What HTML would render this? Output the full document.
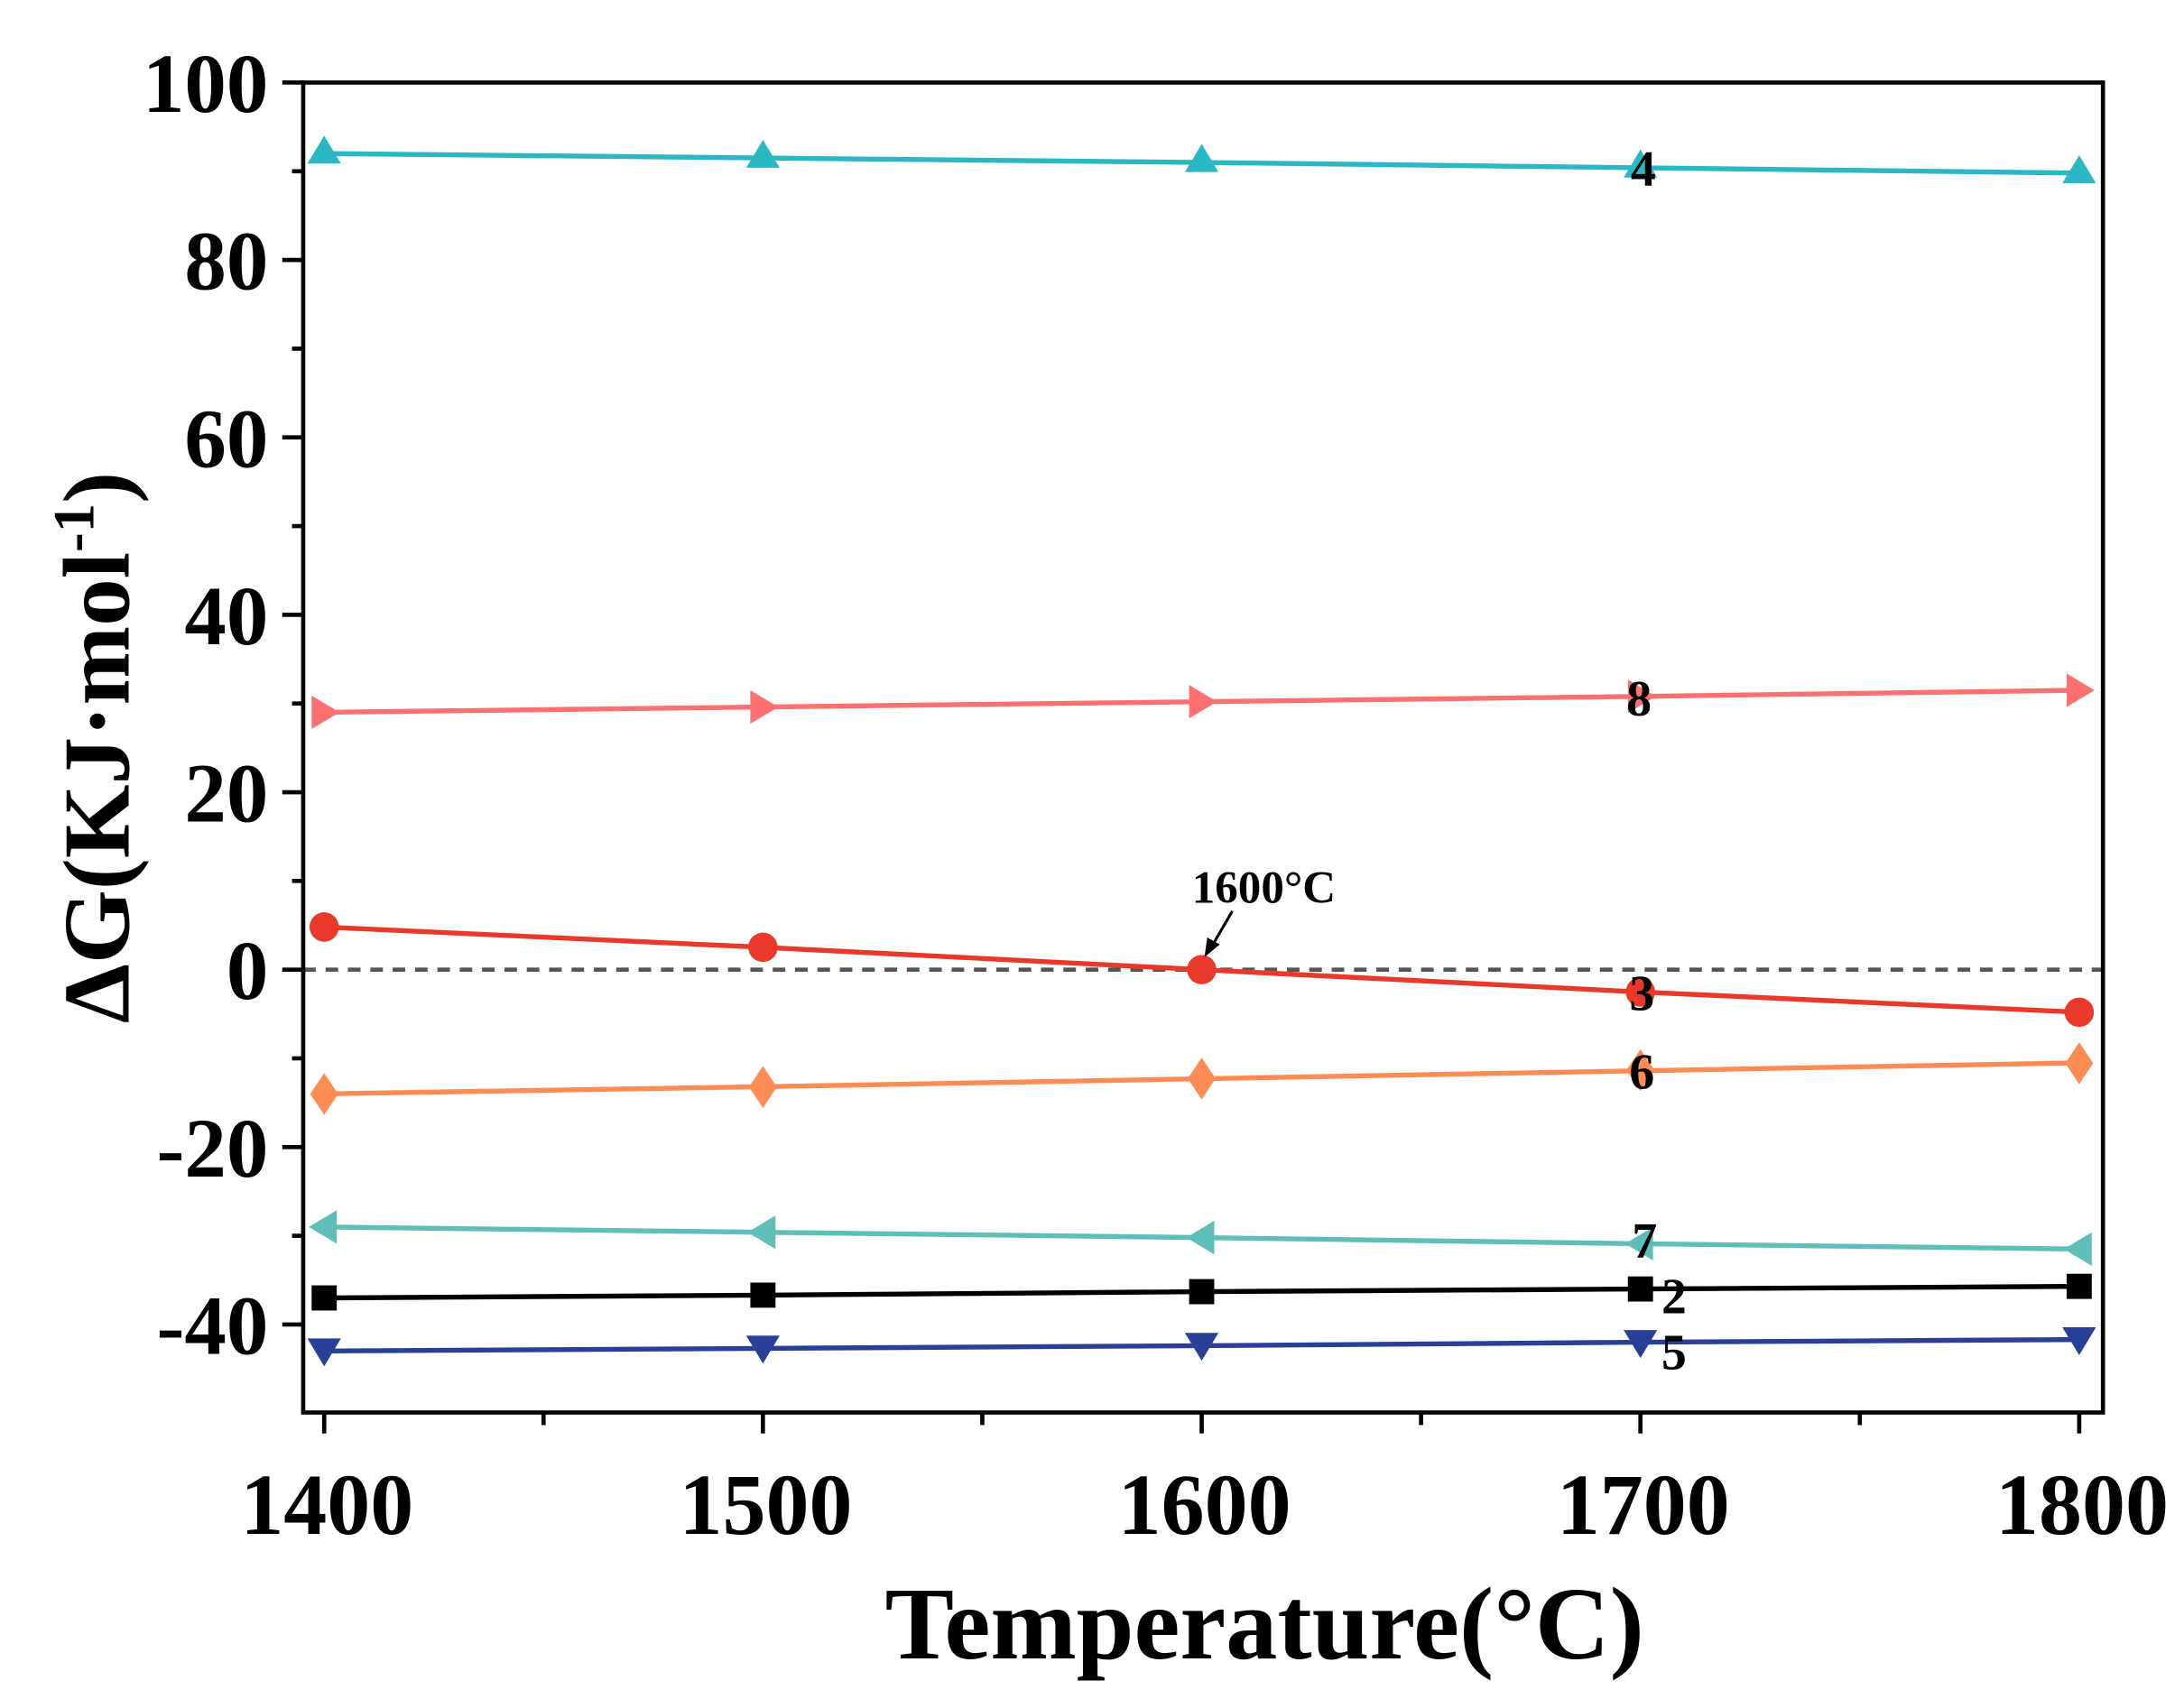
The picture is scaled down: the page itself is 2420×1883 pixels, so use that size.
<!DOCTYPE html>
<html><head><meta charset="utf-8"><style>
html,body{margin:0;padding:0;background:#fff;width:2420px;height:1883px;overflow:hidden}
svg{display:block}
text{font-family:"Liberation Serif",serif;font-weight:bold;fill:#000}
</style></head><body>
<svg width="2420" height="1883" viewBox="0 0 1563 1216" xmlns="http://www.w3.org/2000/svg">
<rect width="1563" height="1216" fill="#fff"/>
<line x1="217" y1="694" x2="1505" y2="694" stroke="#555" stroke-width="3" stroke-dasharray="9,7"/>
<g fill="none" stroke-width="3.5">
<polyline stroke="#2bb8c4" points="232,109.8 546,113 860,116.2 1174,120 1488,123.8"/>
<polyline stroke="#ff7070" points="232,509.8 546,506 860,502.2 1174,498.4 1488,494"/>
<polyline stroke="#e8392a" points="232,663.5 546,678 860,694 1174,710 1488,724.5"/>
<polyline stroke="#ff8c55" points="232,782.9 546,777.8 860,772.1 1174,766.4 1488,760.7"/>
<polyline stroke="#5fbfb8" points="232,878.2 546,882 860,885.8 1174,890.2 1488,894"/>
<polyline stroke="#000" points="232,929 546,927 860,924.5 1174,922.6 1488,920.7"/>
<polyline stroke="#2a3f98" points="232,967 546,965.1 860,963.2 1174,960.7 1488,958.8"/>
</g>
<g fill="#2bb8c4">
<path d="M232,97 l12,20 h-24z"/><path d="M546,100 l12,20 h-24z"/><path d="M860,103 l12,20 h-24z"/><path d="M1174,107 l12,20 h-24z"/><path d="M1488,111 l12,20 h-24z"/>
</g>
<g fill="#ff7070">
<path d="M243,509.8 l-20,-12 v24z"/><path d="M557,506 l-20,-12 v24z"/><path d="M871,502.2 l-20,-12 v24z"/><path d="M1185,498.4 l-20,-12 v24z"/><path d="M1499,494 l-20,-12 v24z"/>
</g>
<g fill="#e8392a">
<circle cx="232" cy="663.5" r="10.5"/><circle cx="546" cy="678" r="10.5"/><circle cx="860" cy="694" r="10.5"/><circle cx="1174" cy="710" r="10.5"/><circle cx="1488" cy="724.5" r="10.5"/>
</g>
<g fill="#ff8c55">
<path d="M232,768 l10,15 l-10,15 l-10,-15z"/><path d="M546,763 l10,15 l-10,15 l-10,-15z"/><path d="M860,757 l10,15 l-10,15 l-10,-15z"/><path d="M1174,751 l10,15 l-10,15 l-10,-15z"/><path d="M1488,746 l10,15 l-10,15 l-10,-15z"/>
</g>
<g fill="#5fbfb8">
<path d="M221,878.2 l20,-12 v24z"/><path d="M535,882 l20,-12 v24z"/><path d="M849,885.8 l20,-12 v24z"/><path d="M1163,890.2 l20,-12 v24z"/><path d="M1477,894 l20,-12 v24z"/>
</g>
<g fill="#000">
<rect x="223" y="920" width="18" height="18"/><rect x="537" y="918" width="18" height="18"/><rect x="851" y="915.5" width="18" height="18"/><rect x="1165" y="913.6" width="18" height="18"/><rect x="1479" y="911.7" width="18" height="18"/>
</g>
<g fill="#2a3f98">
<path d="M232,978 l12,-20 h-24z"/><path d="M546,976 l12,-20 h-24z"/><path d="M860,974 l12,-20 h-24z"/><path d="M1174,972 l12,-20 h-24z"/><path d="M1488,970 l12,-20 h-24z"/>
</g>
<g font-size="36" text-anchor="middle">
<text x="1176" y="133">4</text>
<text x="1173" y="512">8</text>
<text x="1175" y="723">3</text>
<text x="1175" y="779">6</text>
<text x="1177" y="900">7</text>
<text x="1198" y="940">2</text>
<text x="1198" y="980">5</text>
</g>
<text x="853" y="646" font-size="33">1600°C</text>
<line x1="882" y1="652" x2="868" y2="676" stroke="#000" stroke-width="2"/>
<path d="M862,685 l2,-14 l9,5z" fill="#000"/>
<rect x="217" y="59" width="1288" height="952" fill="none" stroke="#000" stroke-width="3"/>
<g stroke="#000" stroke-width="3">
<line x1="202" y1="59" x2="217" y2="59"/><line x1="202" y1="186" x2="217" y2="186"/><line x1="202" y1="313" x2="217" y2="313"/><line x1="202" y1="440" x2="217" y2="440"/><line x1="202" y1="567" x2="217" y2="567"/><line x1="202" y1="694" x2="217" y2="694"/><line x1="202" y1="821" x2="217" y2="821"/><line x1="202" y1="948" x2="217" y2="948"/>
<line x1="209" y1="122.5" x2="217" y2="122.5"/><line x1="209" y1="249.5" x2="217" y2="249.5"/><line x1="209" y1="376.5" x2="217" y2="376.5"/><line x1="209" y1="503.5" x2="217" y2="503.5"/><line x1="209" y1="630.5" x2="217" y2="630.5"/><line x1="209" y1="757.5" x2="217" y2="757.5"/><line x1="209" y1="884.5" x2="217" y2="884.5"/>
<line x1="232" y1="1011" x2="232" y2="1026"/><line x1="546" y1="1011" x2="546" y2="1026"/><line x1="860" y1="1011" x2="860" y2="1026"/><line x1="1174" y1="1011" x2="1174" y2="1026"/><line x1="1488" y1="1011" x2="1488" y2="1026"/>
<line x1="389" y1="1011" x2="389" y2="1020"/><line x1="703" y1="1011" x2="703" y2="1020"/><line x1="1017" y1="1011" x2="1017" y2="1020"/><line x1="1331" y1="1011" x2="1331" y2="1020"/>
</g>
<g font-size="60" text-anchor="end">
<text x="192" y="80">100</text><text x="192" y="207">80</text><text x="192" y="334">60</text><text x="192" y="461">40</text><text x="192" y="588">20</text><text x="192" y="715">0</text><text x="192" y="842">-20</text><text x="192" y="969">-40</text>
</g>
<g font-size="62" text-anchor="middle">
<text x="234" y="1098">1400</text><text x="548" y="1098">1500</text><text x="862" y="1098">1600</text><text x="1176" y="1098">1700</text><text x="1490" y="1098">1800</text>
</g>
<text x="905" y="1187" font-size="74" text-anchor="middle">Temperature(°C)</text>
<text transform="translate(92,535) rotate(-90)" font-size="68" text-anchor="middle">ΔG(KJ·mol<tspan font-size="42" dy="-25">-1</tspan><tspan dy="25">)</tspan></text>
</svg>
</body></html>
